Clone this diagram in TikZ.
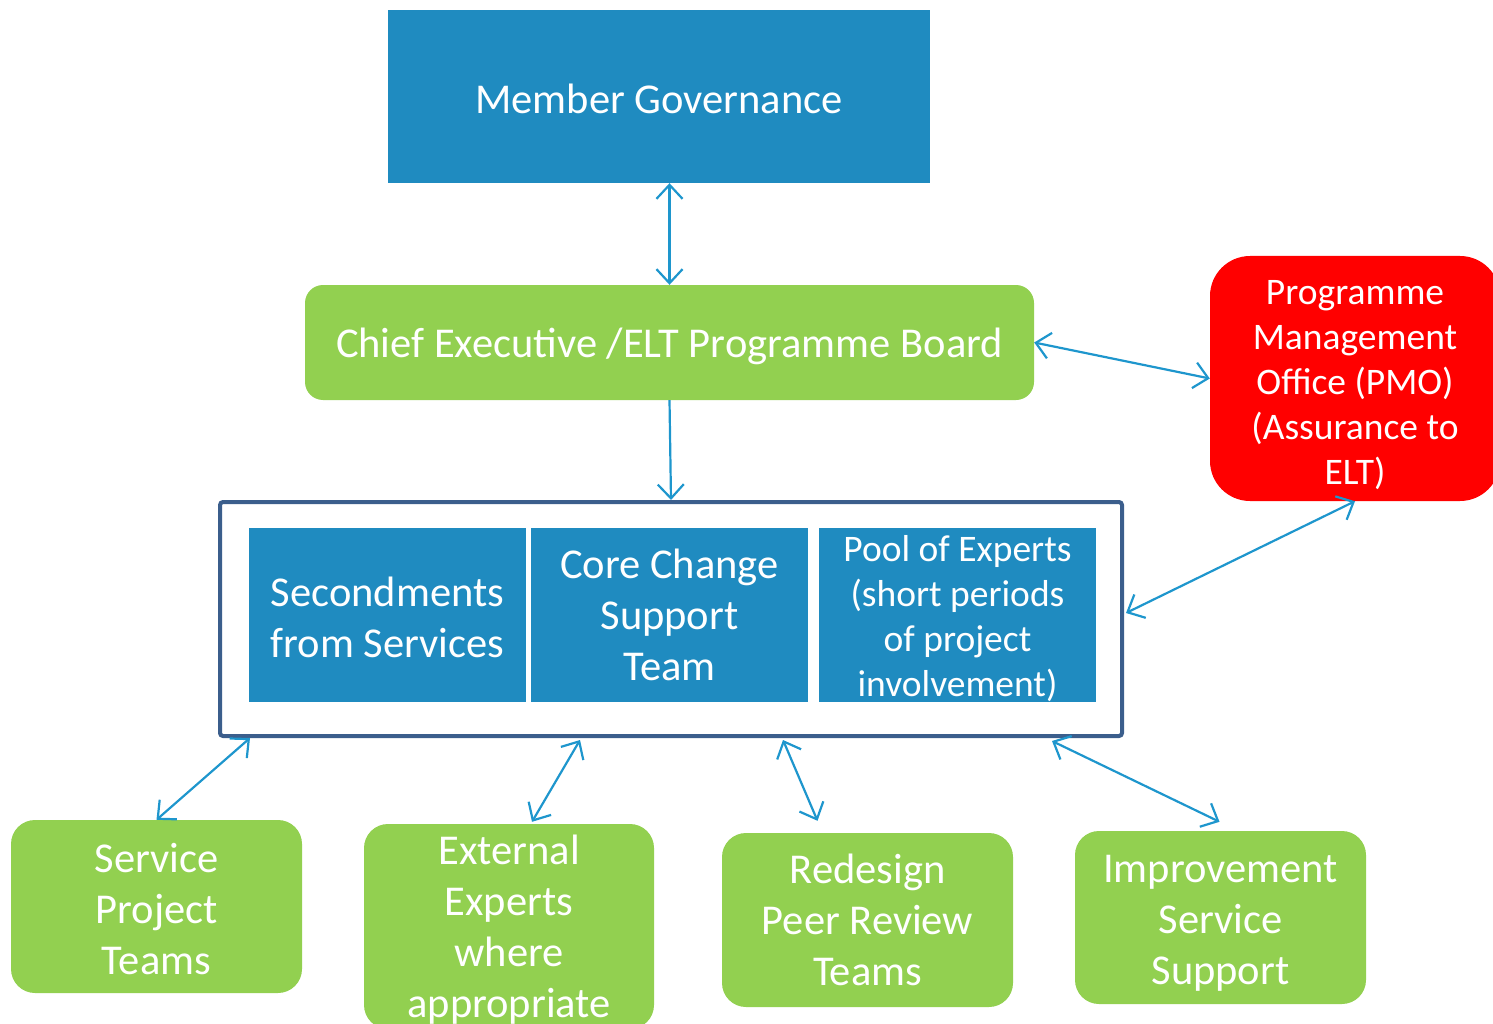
\documentclass[tikz,border=0pt]{standalone}
\usepackage{fontspec}
\setmainfont{Carlito}
\usetikzlibrary{arrows.meta,calc}

\definecolor{boxblue}{RGB}{31,139,192}
\definecolor{boxgreen}{RGB}{146,208,80}
\definecolor{framedark}{RGB}{59,94,140}
\definecolor{linkblue}{RGB}{30,150,205}

% invisible strut that pushes a node's text block down by about #1/2
\newcommand\topgap[1]{\setbox0\hbox{(Ay}\rule{0pt}{\dimexpr\ht0+#1\relax}}

\tikzset{
  bigtxt/.style={font=\fontsize{42.5}{51}\selectfont},
  smalltxt/.style={font=\fontsize{37.5}{45}\selectfont},
  textdown/.style={execute at begin node={\topgap{#1}}},
  bluebox/.style={fill=boxblue, text=white, inner sep=0pt, align=center, bigtxt},
  greenbox/.style={fill=boxgreen, text=white, inner sep=0pt, align=center,
    rounded corners=24pt, bigtxt},
  redbox/.style={fill=red, text=white, inner sep=0pt, align=center,
    rounded corners=40pt, smalltxt},
  link/.style={draw=linkblue, line width=2.2pt,
    {Straight Barb[length=14pt,width=26pt,line width=2.2pt]}-{Straight Barb[length=14pt,width=26pt,line width=2.2pt]}},
  linkone/.style={draw=linkblue, line width=2.2pt,
    -{Straight Barb[length=14pt,width=26pt,line width=2.2pt]}},
}

\begin{document}
\begin{tikzpicture}[x=1pt,y=-1pt]
\useasboundingbox (0,0) rectangle (1493,1024);
\clip (0,0) rectangle (1493,1024);

% top level
\node[bluebox, textdown=4pt, minimum width=542pt, minimum height=173pt] (mg) at (659,96.5) {Member Governance};
\node[greenbox, textdown=7pt, minimum width=729pt, minimum height=115pt, rounded corners=18pt] (ce) at (669.5,342.5) {Chief Executive /ELT Programme Board};
\node[redbox, minimum width=290pt, minimum height=245pt] (pmo) at (1355,378.5)
  {\topgap{9pt}Programme\\Management\\Office (PMO)\\(Assurance to\\ELT)};

% change team frame and its three parts
\node[draw=framedark, line width=4pt, rounded corners=3pt, fill=white,
  minimum width=902pt, minimum height=234pt, inner sep=0pt] (frame) at (671,619) {};
\node[bluebox, minimum width=277pt, minimum height=174pt] (sec) at (387.5,615) {\topgap{3pt}Secondments\\from Services};
\node[bluebox, minimum width=277pt, minimum height=174pt] (core) at (669.5,615) {Core Change\\Support\\Team};
\node[bluebox, smalltxt, minimum width=277pt, minimum height=174pt] (pool) at (957.5,615)
  {\topgap{6pt}Pool of Experts\\(short periods\\of project\\involvement)};

% delivery teams
\node[greenbox, minimum width=291pt, minimum height=173pt] (spt) at (156.5,906.5) {\topgap{3pt}Service\\Project\\Teams};
\node[greenbox, minimum width=290pt, minimum height=205pt] (ext) at (509,926.5) {\topgap{5pt}External\\Experts\\where\\appropriate};
\node[greenbox, minimum width=291pt, minimum height=174pt] (red) at (867.5,920) {Redesign\\Peer Review\\Teams};
\node[greenbox, minimum width=291pt, minimum height=173pt] (imp) at (1220.5,917.5) {\topgap{8pt}Improvement\\Service\\Support};

% connectors
\draw[link] (mg.south -| ce.north) -- (ce.north);
\draw[linkone] (ce.south) -- (frame.north);
\draw[link] (ce.east) -- (pmo.west);
\draw[link] (pmo.south) -- ($(frame.east)+(2,-6)$);
\draw[link] ($(frame.south west)+(32,0)$) -- (spt.north);
\draw[link] ($(frame.south west)+(362,2)$) -- ($(ext.north)+(23,-2)$);
\draw[link] ($(frame.south west)+(565,2)$) -- ($(red.north)+(-50,-12)$);
\draw[link] ($(frame.south west)+(834,3)$) -- ($(imp.north)+(-1,-9)$);
\end{tikzpicture}
\end{document}
